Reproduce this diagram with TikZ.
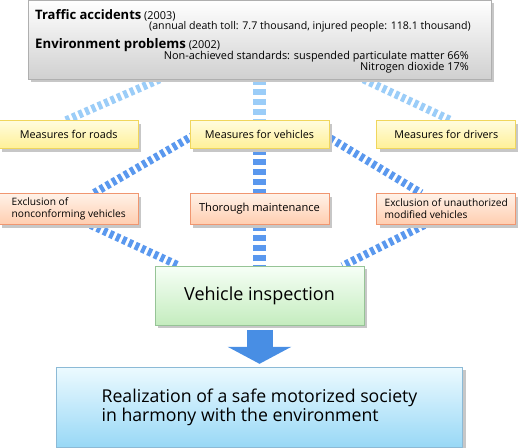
\documentclass[tikz,border=0pt]{standalone}
\usepackage{fontspec}
\setmainfont{Open Sans}
\usetikzlibrary{positioning,shadows,backgrounds,arrows.meta}
\definecolor{lightdash}{RGB}{155,205,248}
\definecolor{darkdash}{RGB}{90,152,238}
\definecolor{arrowblue}{RGB}{72,142,228}
\tikzset{
    basebox/.style={rectangle, draw, thick, inner sep=2pt, text centered,
      drop shadow={shadow xshift=3pt, shadow yshift=-3pt, fill=black!22, opacity=1}},
    topbox/.style={basebox, draw={rgb,255:red,175;green,175;blue,175}, top color=white,
      bottom color={rgb,255:red,208;green,208;blue,208}},
    ybox/.style={basebox, draw={rgb,255:red,240;green,214;blue,92}, top color={rgb,255:red,255;green,252;blue,222},
      bottom color={rgb,255:red,255;green,240;blue,150}, minimum width=139pt, minimum height=28pt,
      font=\fontsize{10.8}{13}\selectfont},
    obox/.style={basebox, draw={rgb,255:red,240;green,150;blue,112}, top color={rgb,255:red,255;green,242;blue,232},
      bottom color={rgb,255:red,255;green,205;blue,175}, minimum width=139pt, minimum height=31pt,
      align=left, font=\fontsize{10.2}{12}\selectfont},
    gbox/.style={basebox, draw={rgb,255:red,150;green,196;blue,150}, top color={rgb,255:red,246;green,255;blue,246},
      bottom color={rgb,255:red,196;green,236;blue,190}, minimum width=209pt, minimum height=59pt,
      font=\fontsize{18}{21}\selectfont},
    bbox/.style={basebox, draw={rgb,255:red,140;green,186;blue,214}, top color={rgb,255:red,236;green,250;blue,255},
      bottom color={rgb,255:red,152;green,216;blue,246}, minimum width=406pt, minimum height=80pt,
      align=left, font=\fontsize{17.7}{19.5}\selectfont},
    toptext/.style={inner sep=0pt, font=\fontsize{10.9}{13}\selectfont},
    lightpil/.style={draw=lightdash, line width=8pt, dash pattern=on 4pt off 3pt},
    darkpil/.style={draw=darkdash, line width=8pt, dash pattern=on 4pt off 3pt},
    vlightpil/.style={lightpil, line width=13pt, dash pattern=on 6pt off 4pt},
    vdarkpil/.style={darkpil, line width=13pt, dash pattern=on 6pt off 4pt},
    bigpil/.style={draw=arrowblue, line width=26pt, -{Triangle[length=17pt 0 0, width=63pt 0 0]}}
}

\begin{document}
\begin{tikzpicture}[x=1pt, y=-1pt]
    \useasboundingbox (0,0) rectangle (518,447);

    \node[topbox, minimum width=463pt, minimum height=79pt] (problems) at (259.5,39.5) {};
    \node[toptext, anchor=base west] (traffic) at (35,19)
      {{\fontsize{13}{16}\selectfont\bfseries Traffic accidents} (2003)};
    \node[toptext, anchor=base east, font=\fontsize{10.6}{13}\selectfont] (toll) at (471,29)
      {(annual death toll: 7.7 thousand, injured people: 118.1 thousand)};
    \node[toptext, anchor=base west] (environment) at (35,48)
      {{\fontsize{13.2}{16}\selectfont\bfseries Environment problems} (2002)};
    \node[toptext, anchor=base east] (standards) at (469,59)
      {Non-achieved standards: suspended particulate matter 66\%};
    \node[toptext, anchor=base east] (nitrogen) at (469,70)
      {Nitrogen dioxide 17\%};

    \node[ybox, below=41pt of problems] (vehicles) {Measures for vehicles};
    \node[ybox, left=51pt of vehicles] (roads) {Measures for roads};
    \node[ybox, right=47pt of vehicles] (drivers) {Measures for drivers};

    \node[obox, below=44pt of vehicles, font=\fontsize{11.1}{13}\selectfont] (maintenance)
      {Thorough maintenance};
    \node[obox, left=51pt of maintenance] (nonconforming)
      {Exclusion of\\nonconforming vehicles};
    \node[obox, right=47pt of maintenance] (unauthorized)
      {Exclusion of unauthorized\\modified vehicles};

    \node[gbox, below=41pt of maintenance] (inspection) {Vehicle inspection};
    \node[bbox, below=41pt of inspection] (society)
      {Realization of a safe motorized society\\in harmony with the environment};

    \draw[bigpil] ([yshift=-4pt]inspection.south) -- ([yshift=3pt]society.north);

    \begin{scope}[on background layer]
      \draw[lightpil] ([xshift=-100pt]problems.south) -- ([xshift=-3pt]roads.north);
      \draw[vlightpil] (problems.south) -- (vehicles.north);
      \draw[lightpil] ([xshift=104pt]problems.south) -- ([xshift=5pt]drivers.north);
      \draw[darkpil] ([xshift=5pt]vehicles.west) -- ([xshift=25pt]nonconforming.north);
      \draw[darkpil] ([xshift=22pt]nonconforming.south) -- ([xshift=25pt]inspection.north west);
      \draw[darkpil] ([xshift=-5pt]vehicles.east) -- ([xshift=-25pt]unauthorized.north);
      \draw[darkpil] ([xshift=-22pt]unauthorized.south) -- ([xshift=-22pt]inspection.north east);
      \draw[vdarkpil] (vehicles.south) -- (maintenance.north);
      \draw[vdarkpil] (maintenance.south) -- (inspection.north);
    \end{scope}
\end{tikzpicture}
\end{document}
